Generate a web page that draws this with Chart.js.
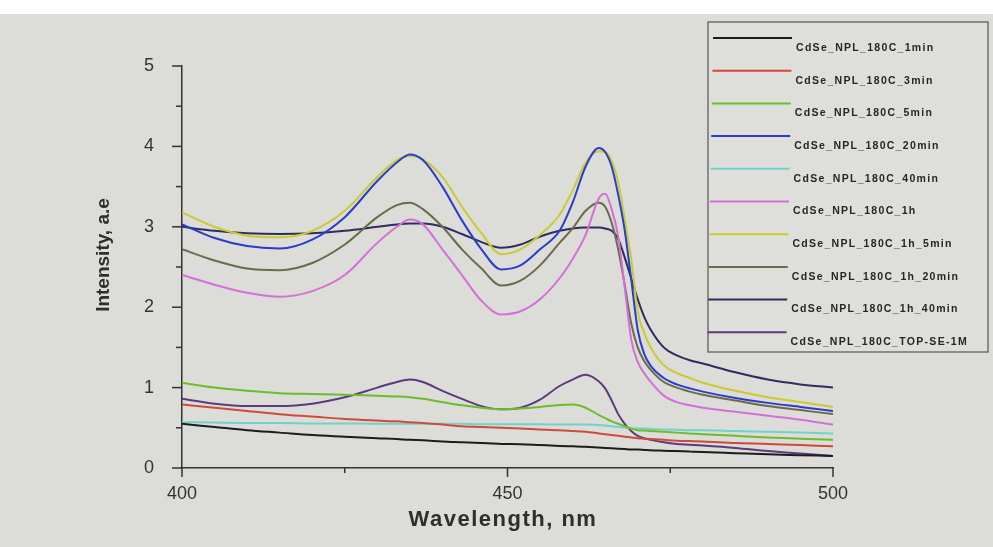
<!DOCTYPE html>
<html>
<head>
<meta charset="utf-8">
<script src="https://cdn.jsdelivr.net/npm/chart.js@4/dist/chart.umd.min.js"></script>
<style>
  html, body { margin: 0; padding: 0; background: #ffffff; }
  #wrap { width: 993px; height: 547px; position: relative; }
</style>
</head>
<body>
<div id="wrap"><canvas id="c" width="993" height="547"></canvas></div>
<script>
// ---- data ----
const wavelengths = [400,405,410,415,420,425,430,433,435,437,440,443,446,449,452,455,458,460,462,464,465,466,467,468,469,470,471,472,474,476,478,480,485,490,495,500];

const seriesNames = [
  "CdSe_NPL_180C_1min",
  "CdSe_NPL_180C_3min",
  "CdSe_NPL_180C_5min",
  "CdSe_NPL_180C_20min",
  "CdSe_NPL_180C_40min",
  "CdSe_NPL_180C_1h",
  "CdSe_NPL_180C_1h_5min",
  "CdSe_NPL_180C_1h_20min",
  "CdSe_NPL_180C_1h_40min",
  "CdSe_NPL_180C_TOP-SE-1M"
];

const s1min   = [0.55,0.51,0.47,0.44,0.41,0.39,0.37,0.36,0.35,0.345,0.33,0.32,0.31,0.30,0.295,0.285,0.275,0.27,0.265,0.255,0.25,0.245,0.24,0.235,0.23,0.23,0.225,0.22,0.215,0.21,0.205,0.2,0.185,0.17,0.16,0.15];
const s3min   = [0.79,0.75,0.71,0.67,0.64,0.61,0.59,0.58,0.57,0.56,0.54,0.52,0.51,0.50,0.49,0.48,0.47,0.46,0.45,0.43,0.42,0.41,0.40,0.39,0.38,0.37,0.365,0.36,0.35,0.34,0.335,0.33,0.31,0.30,0.285,0.27];
const s5min   = [1.06,1.0,0.96,0.93,0.92,0.91,0.90,0.89,0.88,0.86,0.82,0.78,0.75,0.73,0.74,0.76,0.785,0.79,0.75,0.66,0.62,0.58,0.55,0.52,0.49,0.47,0.465,0.46,0.45,0.44,0.43,0.42,0.40,0.38,0.365,0.35];
const s20min  = [3.03,2.86,2.76,2.73,2.84,3.12,3.57,3.80,3.90,3.83,3.50,3.08,2.72,2.47,2.52,2.72,2.95,3.30,3.75,3.98,3.93,3.75,3.40,2.96,2.35,1.72,1.42,1.27,1.12,1.04,0.99,0.95,0.87,0.81,0.76,0.71];
const s40min  = [0.57,0.565,0.56,0.56,0.555,0.555,0.55,0.55,0.55,0.55,0.55,0.55,0.545,0.545,0.545,0.545,0.54,0.54,0.54,0.535,0.53,0.52,0.51,0.50,0.495,0.49,0.49,0.485,0.48,0.475,0.47,0.47,0.46,0.45,0.44,0.43];
const s1h     = [2.40,2.28,2.18,2.13,2.20,2.40,2.80,3.00,3.09,3.03,2.72,2.40,2.08,1.91,1.95,2.10,2.36,2.60,2.90,3.35,3.41,3.22,2.88,2.25,1.60,1.32,1.18,1.07,0.90,0.82,0.78,0.75,0.70,0.65,0.60,0.54];
const s1h5    = [3.18,3.00,2.89,2.87,2.95,3.20,3.62,3.83,3.88,3.84,3.62,3.25,2.92,2.66,2.72,2.90,3.15,3.45,3.80,3.94,3.93,3.82,3.55,3.10,2.60,1.95,1.68,1.50,1.28,1.18,1.12,1.06,0.96,0.88,0.82,0.76];
const s1h20   = [2.72,2.58,2.48,2.46,2.55,2.78,3.12,3.27,3.30,3.22,3.00,2.72,2.48,2.27,2.33,2.52,2.80,2.98,3.20,3.30,3.25,3.05,2.72,2.28,1.80,1.50,1.33,1.22,1.07,1.00,0.95,0.91,0.84,0.77,0.72,0.67];
const s1h40   = [3.00,2.95,2.92,2.91,2.92,2.95,3.00,3.03,3.04,3.04,3.00,2.91,2.81,2.74,2.78,2.88,2.95,2.98,2.99,2.99,2.98,2.95,2.85,2.62,2.36,2.10,1.88,1.72,1.50,1.40,1.34,1.30,1.19,1.10,1.04,1.00];
const sTopSe  = [0.86,0.80,0.77,0.77,0.80,0.88,1.00,1.07,1.10,1.07,0.96,0.86,0.77,0.73,0.75,0.85,1.02,1.10,1.16,1.08,0.99,0.84,0.67,0.55,0.46,0.40,0.37,0.35,0.32,0.30,0.29,0.28,0.25,0.21,0.18,0.15];

const seriesValues = [s1min, s3min, s5min, s20min, s40min, s1h, s1h5, s1h20, s1h40, sTopSe];
const seriesColors = ["#1c1c1c","#cf4a3c","#6cbd2c","#2b3ccc","#72d2c8","#d56fd8","#c9cb30","#6b6b4a","#2d2d5e","#5b3b7c"];

const xTickLabels = [400, 450, 500];
const yTickLabels = [0, 1, 2, 3, 4, 5];
const xTitle = "Wavelength, nm";
const yTitle = "Intensity, a.e";

// ---- build chart ----
const datasets = seriesNames.map((name, i) => ({
  label: name,
  data: wavelengths.map((w, j) => ({ x: w, y: seriesValues[i][j] })),
  borderColor: seriesColors[i],
  backgroundColor: seriesColors[i],
  borderWidth: 2,
  pointRadius: 0,
  cubicInterpolationMode: 'monotone',
  fill: false
}));

const bgPlugin = {
  id: 'bg',
  beforeDraw(chart) {
    const ctx = chart.ctx;
    ctx.save();
    ctx.fillStyle = '#dcdcd8';
    ctx.fillRect(0, 0, chart.width, chart.height);
    ctx.fillStyle = '#ffffff';
    ctx.fillRect(0, 0, chart.width, 14);
    ctx.restore();
  }
};

const decorPlugin = {
  id: 'decor',
  afterDraw(chart) {
    const ctx = chart.ctx;
    const xs = chart.scales.x, ys = chart.scales.y;
    const area = chart.chartArea;
    ctx.save();
    ctx.strokeStyle = '#333333';
    ctx.lineWidth = 1.5;
    // y ticks
    for (let v = 0; v <= 5.0001; v += 0.5) {
      const py = ys.getPixelForValue(v);
      const major = Math.abs(v - Math.round(v)) < 1e-6;
      const len = major ? 10 : 6;
      ctx.beginPath();
      ctx.moveTo(area.left - len, py);
      ctx.lineTo(area.left, py);
      ctx.stroke();
    }
    // x ticks
    for (let v = 400; v <= 500; v += 25) {
      const px = xs.getPixelForValue(v);
      const major = v % 50 === 0;
      const len = major ? 9 : 5;
      ctx.beginPath();
      ctx.moveTo(px, area.bottom);
      ctx.lineTo(px, area.bottom + len);
      ctx.stroke();
    }
    // axis titles
    ctx.fillStyle = '#2e2e2e';
    ctx.textAlign = 'center';
    ctx.textBaseline = 'middle';
    ctx.font = 'bold 22px "Liberation Sans", Arial, sans-serif';
    try { ctx.letterSpacing = '1.5px'; } catch (e) {}
    ctx.fillText(xTitle, 503, 520);
    try { ctx.letterSpacing = '0px'; } catch (e) {}
    ctx.save();
    ctx.translate(104, 255);
    ctx.rotate(-Math.PI / 2);
    ctx.font = 'bold 19px "Liberation Sans", Arial, sans-serif';
    ctx.fillText(yTitle, 0, 0);
    ctx.restore();

    // legend box
    const bx = 708, by = 22, bw = 280, bh = 330;
    ctx.fillStyle = '#dededa';
    ctx.fillRect(bx, by, bw, bh);
    ctx.strokeStyle = '#555555';
    ctx.lineWidth = 1.2;
    ctx.strokeRect(bx, by, bw, bh);
    ctx.font = 'bold 10.5px "Liberation Sans", Arial, sans-serif';
    ctx.textAlign = 'left';
    ctx.textBaseline = 'middle';
    try { ctx.letterSpacing = '1.3px'; } catch (e) {}
    chart.data.datasets.forEach((ds, i) => {
      const ly = 38 + i * 32.7;
      const shift = i * 0.6;
      ctx.strokeStyle = ds.borderColor;
      ctx.lineWidth = 2;
      ctx.beginPath();
      ctx.moveTo(713 - shift, ly);
      ctx.lineTo(792 - shift, ly);
      ctx.stroke();
      ctx.fillStyle = '#262626';
      ctx.fillText(ds.label, 796 - shift, ly + 10);
    });
    ctx.restore();
  }
};

new Chart(document.getElementById('c'), {
  type: 'line',
  data: { datasets },
  plugins: [bgPlugin, decorPlugin],
  options: {
    responsive: false,
    animation: false,
    layout: { padding: { top: 66, right: 160, left: 0, bottom: 0 } },
    plugins: { legend: { display: false }, tooltip: { enabled: false } },
    scales: {
      x: {
        type: 'linear',
        min: 400, max: 500,
        afterFit(s) { s.height = 79; },
        grid: { drawOnChartArea: false, drawTicks: false },
        border: { display: true, color: '#333333', width: 1.5 },
        ticks: {
          stepSize: 50,
          padding: 15,
          color: '#333333',
          font: { size: 18, family: '"Liberation Sans", Arial, sans-serif' },
          callback: (v) => xTickLabels.includes(v) ? String(v) : ''
        }
      },
      y: {
        type: 'linear',
        min: 0, max: 5,
        afterFit(s) { s.width = 182; },
        grid: { drawOnChartArea: false, drawTicks: false },
        border: { display: true, color: '#333333', width: 1.5 },
        ticks: {
          stepSize: 1,
          padding: 28,
          color: '#333333',
          font: { size: 18, family: '"Liberation Sans", Arial, sans-serif' },
          callback: (v) => yTickLabels.includes(v) ? String(v) : ''
        }
      }
    }
  }
});
</script>
</body>
</html>
